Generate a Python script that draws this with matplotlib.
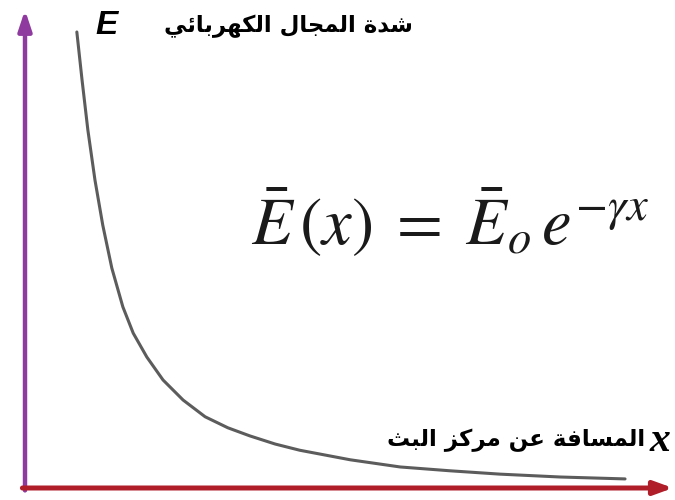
import matplotlib
matplotlib.use("Agg")
import matplotlib.pyplot as plt

# field strength against distance from the transmitter
distance = [0.80, 0.88, 0.97, 1.08, 1.20, 1.34, 1.51, 1.67, 1.88, 2.13, 2.44,
            2.78, 3.13, 3.47, 3.86, 4.24, 5.02, 5.79, 6.56, 7.33, 8.26, 9.26]
field = [9.54, 8.54, 7.49, 6.44, 5.50, 4.60, 3.79, 3.24, 2.74, 2.26, 1.84,
         1.49, 1.26, 1.09, 0.92, 0.79, 0.59, 0.44, 0.36, 0.29, 0.23, 0.19]

y_title = "شدة المجال الكهربائي"
x_title = "المسافة عن مركز البث"
equation = r"$\bar{E}\,(x)\;=\;\bar{E}_o\,e^{-\gamma x}$"

# matplotlib has no arabic shaping, so pick the presentation forms by hand
FORMS = {
    "ا": ("\uFE8D", "\uFE8E", None, None),
    "ب": ("\uFE8F", "\uFE90", "\uFE91", "\uFE92"),
    "ة": ("\uFE93", "\uFE94", None, None),
    "ث": ("\uFE99", "\uFE9A", "\uFE9B", "\uFE9C"),
    "ج": ("\uFE9D", "\uFE9E", "\uFE9F", "\uFEA0"),
    "د": ("\uFEA9", "\uFEAA", None, None),
    "ر": ("\uFEAD", "\uFEAE", None, None),
    "ز": ("\uFEAF", "\uFEB0", None, None),
    "س": ("\uFEB1", "\uFEB2", "\uFEB3", "\uFEB4"),
    "ش": ("\uFEB5", "\uFEB6", "\uFEB7", "\uFEB8"),
    "ع": ("\uFEC9", "\uFECA", "\uFECB", "\uFECC"),
    "ف": ("\uFED1", "\uFED2", "\uFED3", "\uFED4"),
    "ك": ("\uFED9", "\uFEDA", "\uFEDB", "\uFEDC"),
    "ل": ("\uFEDD", "\uFEDE", "\uFEDF", "\uFEE0"),
    "م": ("\uFEE1", "\uFEE2", "\uFEE3", "\uFEE4"),
    "ن": ("\uFEE5", "\uFEE6", "\uFEE7", "\uFEE8"),
    "ه": ("\uFEE9", "\uFEEA", "\uFEEB", "\uFEEC"),
    "ي": ("\uFEF1", "\uFEF2", "\uFEF3", "\uFEF4"),
    "ئ": ("\uFE89", "\uFE8A", "\uFE8B", "\uFE8C"),
}


def shape(text):
    out = []
    for i, ch in enumerate(text):
        if ch not in FORMS:
            out.append(ch)
            continue
        prev = text[i - 1] if i > 0 else " "
        nxt = text[i + 1] if i + 1 < len(text) else " "
        join_prev = prev in FORMS and FORMS[prev][2] is not None
        join_next = FORMS[ch][2] is not None and nxt in FORMS
        iso, fin, ini, med = FORMS[ch]
        if join_prev and join_next:
            out.append(med)
        elif join_prev:
            out.append(fin)
        elif join_next:
            out.append(ini)
        else:
            out.append(iso)
    return "".join(out)[::-1]


plt.rcParams["mathtext.fontset"] = "stix"

fig = plt.figure(figsize=(6.75, 5), dpi=100)
ax = fig.add_axes([25 / 675, 12 / 500, 648 / 675, 478 / 500])
ax.set_xlim(0, 10)
ax.set_ylim(0, 10)
ax.axis("off")

ax.plot(distance, field, color="#5c5c5c", lw=2.2, solid_capstyle="round",
        solid_joinstyle="round")

# axes arrows
ax.annotate("", xy=(0, 10), xytext=(0, -0.05),
            arrowprops=dict(arrowstyle="-|>,head_length=1.2,head_width=0.4",
                            color="#8e3a9f", lw=3.2, shrinkA=0, shrinkB=0),
            annotation_clip=False)
ax.annotate("", xy=(10, 0), xytext=(-0.04, 0),
            arrowprops=dict(arrowstyle="-|>,head_length=1.1,head_width=0.4",
                            color="#b01e2a", lw=3.6, shrinkA=0, shrinkB=0),
            annotation_clip=False)

# labels
fig.text(95 / 675, 1 - 25 / 500, "E", fontsize=24, fontweight="bold",
         fontstyle="italic", family="Liberation Sans", va="center", ha="left")
fig.text(413 / 675, 1 - 26 / 500, shape(y_title), fontsize=16.5,
         fontweight="bold", family="DejaVu Sans", va="center", ha="right")
fig.text(645 / 675, 1 - 440 / 500, shape(x_title), fontsize=16.5,
         fontweight="bold", family="DejaVu Sans", va="center", ha="right")
fig.text(650 / 675, 1 - 441 / 500, "x", fontsize=30, fontweight="bold",
         fontstyle="italic", family="Liberation Serif", va="center", ha="left")

fig.text(450 / 675, 1 - 222 / 500, equation, fontsize=48, color="#1a1a1a",
         va="center", ha="center")

fig.savefig("out.png", dpi=100)
